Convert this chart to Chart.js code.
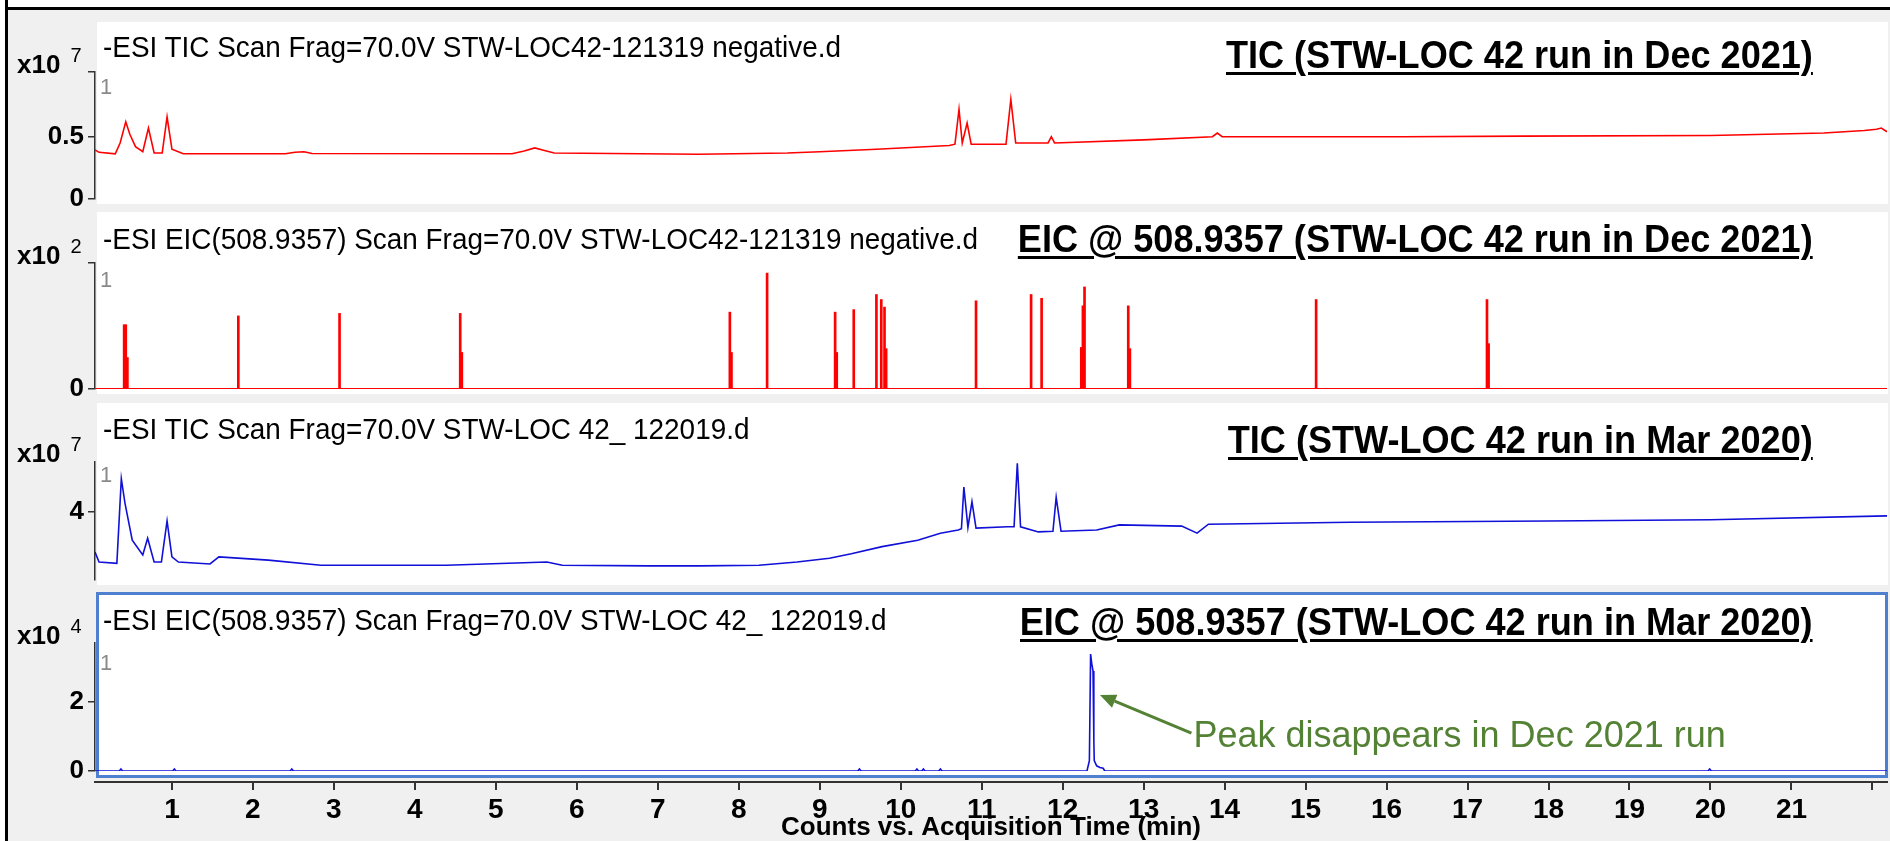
<!DOCTYPE html>
<html>
<head>
<meta charset="utf-8">
<script src="https://cdn.jsdelivr.net/npm/chart.js@4.4.1/dist/chart.umd.min.js"></script>
<style>
  body { margin: 0; background: #fff; }
  #page { position: relative; width: 1890px; height: 841px; overflow: hidden; background: #f0f0f0;
          font-family: "Liberation Sans", Arial, sans-serif; }
  .edge-top { position: absolute; left: 0; top: 0; width: 1890px; height: 7px; background: #fff; border-bottom: 3px solid #000; }
  .edge-left { position: absolute; left: 0; top: 0; width: 5px; height: 841px; background: #fff; border-right: 3px solid #000; }
  .panel { position: absolute; left: 97px; width: 1791px; height: 182px; background: #fff; }
  .panel.sel { left: 96px; width: 1792px; height: 186px; border: 3px solid #4f7fcf; box-sizing: border-box; }
  canvas { position: absolute; left: 0; }
  /* screenshot font is a little condensed, so squeeze the text a bit */
  .title { position: absolute; left: 103px; font-size: 30px; line-height: 30px; color: #000; white-space: nowrap;
           transform: scaleX(0.93); transform-origin: left center; }
  .tag { position: absolute; right: 77px; font-size: 38px; line-height: 38px; font-weight: bold; color: #000; white-space: nowrap;
         text-decoration: underline; text-decoration-thickness: 3px; text-underline-offset: 4px;
         transform: scaleX(0.95); transform-origin: right center; }
  .exp { position: absolute; left: 17px; font-size: 26px; line-height: 26px; font-weight: bold; color: #000; }
  .exp span { position: relative; top: -11px; margin-left: 10px; font-size: 20px; font-weight: normal; }
  .num { position: absolute; left: 100px; font-size: 22px; line-height: 22px; color: #8a8a8a; }
</style>
</head>
<body>
<div id="page">
  <div class="edge-top"></div>
  <div class="edge-left"></div>

  <div class="panel" style="top:22px"></div>
  <div class="panel" style="top:212px"></div>
  <div class="panel" style="top:403px"></div>
  <div class="panel sel" style="top:592px"></div>

  <canvas id="tic_dec"></canvas>
  <canvas id="eic_dec"></canvas>
  <canvas id="tic_mar"></canvas>
  <canvas id="eic_mar"></canvas>
  <canvas id="time_axis"></canvas>

  <div class="title" style="top:32px">-ESI TIC Scan Frag=70.0V STW-LOC42-121319 negative.d</div>
  <div class="title" style="top:224px">-ESI EIC(508.9357) Scan Frag=70.0V STW-LOC42-121319 negative.d</div>
  <div class="title" style="top:414px">-ESI TIC Scan Frag=70.0V STW-LOC 42_ 122019.d</div>
  <div class="title" style="top:605px">-ESI EIC(508.9357) Scan Frag=70.0V STW-LOC 42_ 122019.d</div>

  <div class="tag" style="top:36px">TIC (STW-LOC 42 run in Dec 2021)</div>
  <div class="tag" style="top:220px">EIC @ 508.9357 (STW-LOC 42 run in Dec 2021)</div>
  <div class="tag" style="top:421px">TIC (STW-LOC 42 run in Mar 2020)</div>
  <div class="tag" style="top:603px">EIC @ 508.9357 (STW-LOC 42 run in Mar 2020)</div>

  <div class="exp" style="top:51px">x10<span>7</span></div>
  <div class="exp" style="top:242px">x10<span>2</span></div>
  <div class="exp" style="top:440px">x10<span>7</span></div>
  <div class="exp" style="top:622px">x10<span>4</span></div>

  <div class="num" style="top:76px">1</div>
  <div class="num" style="top:269px">1</div>
  <div class="num" style="top:464px">1</div>
  <div class="num" style="top:652px">1</div>
</div>

<script>
// traces, time in min
// TIC Dec 2021, counts x10^7
const tic_dec_time = [0.05, 0.10, 0.30, 0.36, 0.43, 0.48, 0.55, 0.64, 0.71, 0.78, 0.88, 0.94, 1.00, 1.14, 2.40, 2.52, 2.63, 2.73, 5.20, 5.35, 5.48, 5.60, 5.72, 7.50, 8.60, 9.00, 9.70, 10.60, 10.67, 10.72, 10.76, 10.82, 10.87, 11.30, 11.36, 11.42, 11.82, 11.86, 11.90, 13.00, 13.85, 13.91, 13.97, 16.20, 17.70, 20.00, 21.40, 21.90, 22.05, 22.11, 22.18];
const tic_dec_counts = [0.395, 0.375, 0.363, 0.45, 0.62, 0.52, 0.42, 0.38, 0.57, 0.37, 0.37, 0.66, 0.40, 0.363, 0.363, 0.375, 0.38, 0.365, 0.363, 0.385, 0.41, 0.39, 0.37, 0.36, 0.37, 0.38, 0.40, 0.43, 0.44, 0.72, 0.45, 0.61, 0.44, 0.44, 0.80, 0.45, 0.45, 0.50, 0.45, 0.475, 0.50, 0.53, 0.50, 0.50, 0.505, 0.51, 0.53, 0.55, 0.56, 0.57, 0.54];

// EIC 508.9357 Dec 2021, counts x10^2 (isolated spikes on a zero baseline)
const eic_dec_time = [0.41, 0.43, 0.45, 1.82, 3.07, 4.56, 4.58, 7.89, 7.91, 8.35, 9.19, 9.21, 9.42, 9.70, 9.76, 9.80, 9.82, 10.93, 11.61, 11.74, 12.23, 12.25, 12.27, 12.81, 12.83, 15.13, 17.24, 17.26];
const eic_dec_counts = [0.51, 0.51, 0.25, 0.58, 0.60, 0.60, 0.29, 0.61, 0.29, 0.92, 0.61, 0.29, 0.63, 0.75, 0.71, 0.65, 0.32, 0.70, 0.75, 0.72, 0.33, 0.66, 0.81, 0.66, 0.32, 0.71, 0.71, 0.36];
const eic_dec_base_time = [0.05, 22.18];
const eic_dec_base_counts = [0, 0];

// TIC Mar 2020, counts x10^7
const tic_mar_time = [0.05, 0.10, 0.32, 0.375, 0.42, 0.51, 0.64, 0.70, 0.78, 0.87, 0.94, 1.00, 1.08, 1.47, 1.58, 2.19, 2.84, 4.39, 5.63, 5.82, 6.90, 7.52, 8.25, 8.72, 9.12, 9.39, 9.77, 10.21, 10.49, 10.71, 10.75, 10.78, 10.83, 10.88, 10.93, 11.32, 11.40, 11.44, 11.48, 11.70, 11.88, 11.92, 11.98, 12.42, 12.70, 13.47, 13.66, 13.80, 15.55, 18.00, 20.00, 22.18];
const tic_mar_counts = [3.375, 3.22, 3.20, 4.52, 4.14, 3.56, 3.33, 3.59, 3.22, 3.22, 3.86, 3.30, 3.22, 3.19, 3.30, 3.25, 3.17, 3.17, 3.22, 3.17, 3.16, 3.16, 3.17, 3.22, 3.28, 3.35, 3.46, 3.56, 3.67, 3.72, 3.74, 4.39, 3.76, 4.16, 3.75, 3.77, 3.77, 4.76, 3.77, 3.69, 3.70, 4.23, 3.70, 3.72, 3.80, 3.78, 3.67, 3.81, 3.84, 3.86, 3.88, 3.94];

// EIC 508.9357 Mar 2020, counts x10^4
const eic_mar_time = [0.05, 0.35, 0.37, 0.39, 1.01, 1.03, 1.05, 2.46, 2.48, 2.50, 9.47, 9.49, 9.51, 10.18, 10.20, 10.22, 10.26, 10.28, 10.30, 10.47, 10.49, 10.51, 12.30, 12.33, 12.345, 12.36, 12.375, 12.385, 12.39, 12.42, 12.46, 12.50, 12.52, 19.97, 19.99, 20.01, 22.18];
const eic_mar_counts = [0, 0, 0.06, 0, 0, 0.06, 0, 0, 0.06, 0, 0, 0.06, 0, 0, 0.06, 0, 0, 0.06, 0, 0, 0.06, 0, 0, 0.3, 3.39, 3.1, 2.9, 0.9, 0.3, 0.15, 0.1, 0.08, 0, 0, 0.06, 0, 0];

// axis ticks
const x_tick_values = [1, 2, 3, 4, 5, 6, 7, 8, 9, 10, 11, 12, 13, 14, 15, 16, 17, 18, 19, 20, 21, 22];
const x_tick_labels = ["1", "2", "3", "4", "5", "6", "7", "8", "9", "10", "11", "12", "13", "14", "15", "16", "17", "18", "19", "20", "21", ""];
const tic_dec_y_ticks = [0, 0.5, 1.02];
const tic_dec_y_labels = ["0", "0.5", ""];
const eic_dec_y_ticks = [0, 1];
const eic_dec_y_labels = ["0", ""];
const tic_mar_y_ticks = [4];
const tic_mar_y_labels = ["4"];
const eic_mar_y_ticks = [0, 2];
const eic_mar_y_labels = ["0", "2"];

// annotation on the last panel (min, x10^4)
const arrow_tip = { x: 12.46, y: 2.2 };
const arrow_tail = { x: 13.59, y: 1.1 };
const note_text = "Peak disappears in Dec 2021 run";

const x_min = 0.05, x_max = 22.18;
const font_family = '"Liberation Sans", Arial, sans-serif';
const red = "#ff0000";
const blue = "#1010d8";

function xy(times, counts) {
  return times.map((t, i) => ({ x: t, y: counts[i] }));
}

function line_set(times, counts, color, width) {
  return { type: "line", data: xy(times, counts), borderColor: color, borderWidth: width || 1.6,
           pointRadius: 0, tension: 0, fill: false };
}

// draws the green arrow + note in the bottom panel
var note_plugin = {
  id: "note",
  afterDatasetsDraw(chart) {
    var ctx = chart.ctx, xs = chart.scales.x, ys = chart.scales.y;
    var x1 = xs.getPixelForValue(arrow_tail.x), y1 = ys.getPixelForValue(arrow_tail.y);
    var x2 = xs.getPixelForValue(arrow_tip.x), y2 = ys.getPixelForValue(arrow_tip.y);
    var ang = Math.atan2(y2 - y1, x2 - x1);
    var hx = x2 - 16 * Math.cos(ang), hy = y2 - 16 * Math.sin(ang);
    ctx.save();
    ctx.strokeStyle = "#548235";
    ctx.fillStyle = "#548235";
    ctx.lineWidth = 3;
    ctx.beginPath();
    ctx.moveTo(x1, y1);
    ctx.lineTo(hx, hy);
    ctx.stroke();
    ctx.beginPath();
    ctx.moveTo(x2, y2);
    ctx.lineTo(hx - 7 * Math.sin(ang), hy + 7 * Math.cos(ang));
    ctx.lineTo(hx + 7 * Math.sin(ang), hy - 7 * Math.cos(ang));
    ctx.closePath();
    ctx.fill();
    ctx.font = "36px " + font_family;
    ctx.textBaseline = "middle";
    ctx.textAlign = "left";
    ctx.fillText(note_text, x1 + 2, y1 + 4);
    ctx.restore();
  }
};

function make_panel(canvas_id, axis_top, axis_bottom, y_min, y_max, y_ticks, y_labels, datasets, plugins) {
  var cv = document.getElementById(canvas_id);
  var h = axis_bottom - axis_top + 80;
  cv.width = 1890; cv.height = h;
  cv.style.width = "1890px"; cv.style.height = h + "px";
  cv.style.top = (axis_top - 40) + "px";
  return new Chart(cv, {
    type: "line",
    data: { datasets: datasets },
    plugins: plugins || [],
    options: {
      responsive: false,
      animation: false,
      devicePixelRatio: 1,
      layout: { padding: { top: 40, bottom: 40, left: 0, right: 3 } },
      plugins: { legend: { display: false }, tooltip: { enabled: false } },
      scales: {
        // offset off, otherwise the bar spikes shift the time axis
        x: { type: "linear", min: x_min, max: x_max, offset: false, grid: { offset: false }, display: false },
        y: {
          min: y_min, max: y_max,
          afterFit: s => { s.width = 95; },
          afterBuildTicks: s => { s.ticks = y_ticks.map(v => ({ value: v })); },
          ticks: { autoSkip: false, padding: 4, color: "#000",
                   font: { family: font_family, weight: "bold", size: 26, lineHeight: 1 },
                   callback: (v, i) => y_labels[i] },
          grid: { drawOnChartArea: false, tickLength: 7, color: "#333", lineWidth: 1.5 },
          border: { color: "#333", width: 1.5 }
        }
      }
    }
  });
}

function make_time_axis() {
  var cv = document.getElementById("time_axis");
  cv.width = 1890; cv.height = 101;
  cv.style.width = "1890px"; cv.style.height = "101px";
  cv.style.top = "740px";
  return new Chart(cv, {
    type: "line",
    data: { datasets: [] },
    options: {
      responsive: false,
      animation: false,
      devicePixelRatio: 1,
      layout: { padding: { top: 30, bottom: 0, left: 95, right: 3 } },
      plugins: { legend: { display: false }, tooltip: { enabled: false } },
      scales: {
        x: {
          type: "linear", min: x_min, max: x_max,
          afterFit: s => { s.height = 59; },
          afterBuildTicks: s => { s.ticks = x_tick_values.map(v => ({ value: v })); },
          ticks: { autoSkip: false, maxRotation: 0, padding: 6, color: "#000",
                   font: { family: font_family, weight: "bold", size: 28, lineHeight: 1 },
                   callback: (v, i) => x_tick_labels[i] },
          grid: { drawOnChartArea: false, tickLength: 8, color: "#333", lineWidth: 2 },
          border: { color: "#333", width: 2 },
          title: { display: true, text: "Counts vs. Acquisition Time (min)", color: "#000",
                   font: { family: font_family, weight: "bold", size: 26, lineHeight: 1 },
                   padding: { top: 0, bottom: 0 } }
        },
        y: { display: false }
      }
    }
  });
}

var charts = {};

function init() {
  charts.tic_dec = make_panel("tic_dec", 72, 199, 0, 1.02, tic_dec_y_ticks, tic_dec_y_labels,
    [line_set(tic_dec_time, tic_dec_counts, red)]);

  charts.eic_dec = make_panel("eic_dec", 263, 389, 0, 1, eic_dec_y_ticks, eic_dec_y_labels,
    [line_set(eic_dec_base_time, eic_dec_base_counts, red, 2.2),
     { type: "bar", data: xy(eic_dec_time, eic_dec_counts), backgroundColor: red,
       barThickness: 2, borderWidth: 0 }]);

  charts.tic_mar = make_panel("tic_mar", 462, 580, 2.94, 4.78, tic_mar_y_ticks, tic_mar_y_labels,
    [line_set(tic_mar_time, tic_mar_counts, blue)]);

  charts.eic_mar = make_panel("eic_mar", 643, 771, 0, 3.71, eic_mar_y_ticks, eic_mar_y_labels,
    [line_set(eic_mar_time, eic_mar_counts, blue)], [note_plugin]);

  charts.time_axis = make_time_axis();
}

init();
</script>
</body>
</html>
